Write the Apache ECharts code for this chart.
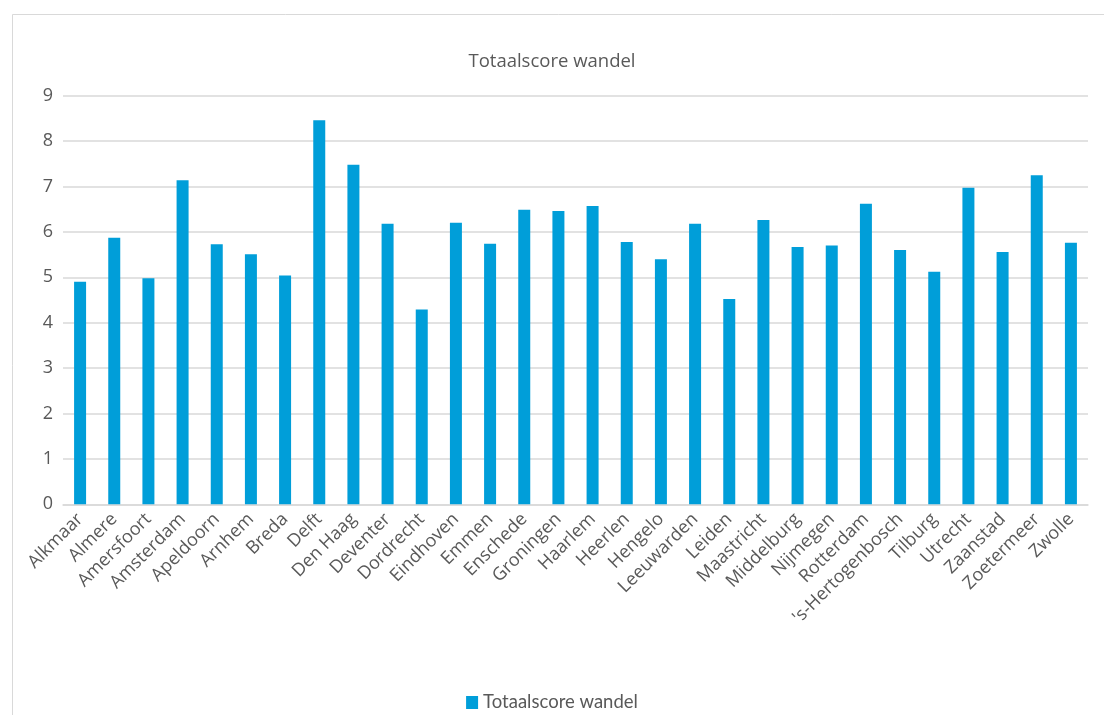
<!DOCTYPE html>
<html>
<head>
<meta charset="utf-8">
<script src="https://cdn.jsdelivr.net/npm/echarts@6/dist/echarts.min.js"></script>
<style>
html,body{margin:0;padding:0;background:#fff;}
#chart{width:1104px;height:715px;}
</style>
</head>
<body>
<div id="chart"></div>
<script>
const categories = ["Alkmaar","Almere","Amersfoort","Amsterdam","Apeldoorn","Arnhem","Breda","Delft","Den Haag","Deventer","Dordrecht","Eindhoven","Emmen","Enschede","Groningen","Haarlem","Heerlen","Hengelo","Leeuwarden","Leiden","Maastricht","Middelburg","Nijmegen","Rotterdam","'s-Hertogenbosch","Tilburg","Utrecht","Zaanstad","Zoetermeer","Zwolle"];
const scores = [4.90,5.87,4.98,7.14,5.73,5.51,5.04,8.46,7.48,6.18,4.29,6.20,5.74,6.49,6.46,6.57,5.78,5.40,6.18,4.52,6.26,5.67,5.70,6.62,5.60,5.12,6.97,5.56,7.25,5.76];
const seriesName = "Totaalscore wandel";
const titleText = "Totaalscore wandel";
const yTicks = [0,1,2,3,4,5,6,7,8,9];

const FONT = "'Open Sans', Lato, sans-serif";
const chart = echarts.init(document.getElementById('chart'), null, {renderer:'canvas'});
chart.setOption({
  animation:false,
  backgroundColor:'#fff',
  graphic:[{
    type:'rect', silent:true, z:-10,
    shape:{x:12.5,y:14.5,width:1100,height:710},
    style:{fill:'none',stroke:'#d9d9d9',lineWidth:1}
  }],
  title:{
    text:titleText, left:'center', top:47,
    textStyle:{fontFamily:FONT,fontSize:18.5,fontWeight:'normal',color:'#595959'}
  },
  legend:{
    data:[seriesName], bottom:-2, left:'center',
    icon:'rect', itemWidth:12, itemHeight:13, itemGap:7,
    textStyle:{fontFamily:"Lato, sans-serif",fontSize:18.5,color:'#595959'}
  },
  grid:{left:63,right:16,top:95.7,bottom:210.7,containLabel:false},
  xAxis:{
    type:'category', data:categories,
    axisLine:{lineStyle:{color:'#d9d9d9',width:1.5}},
    axisTick:{show:false},
    axisLabel:{rotate:45,interval:0,margin:12,fontFamily:FONT,fontSize:18,color:'#595959'}
  },
  yAxis:{
    type:'value', min:yTicks[0], max:yTicks[yTicks.length-1], interval:1,
    axisLine:{show:false}, axisTick:{show:false},
    axisLabel:{margin:10,fontFamily:FONT,fontSize:18,color:'#595959'},
    splitLine:{lineStyle:{color:'#d9d9d9',width:1.5}}
  },
  series:[{
    name:seriesName, type:'bar', data:scores, barWidth:12,
    itemStyle:{color:'#009ED9'}
  }]
});
</script>
</body>
</html>
